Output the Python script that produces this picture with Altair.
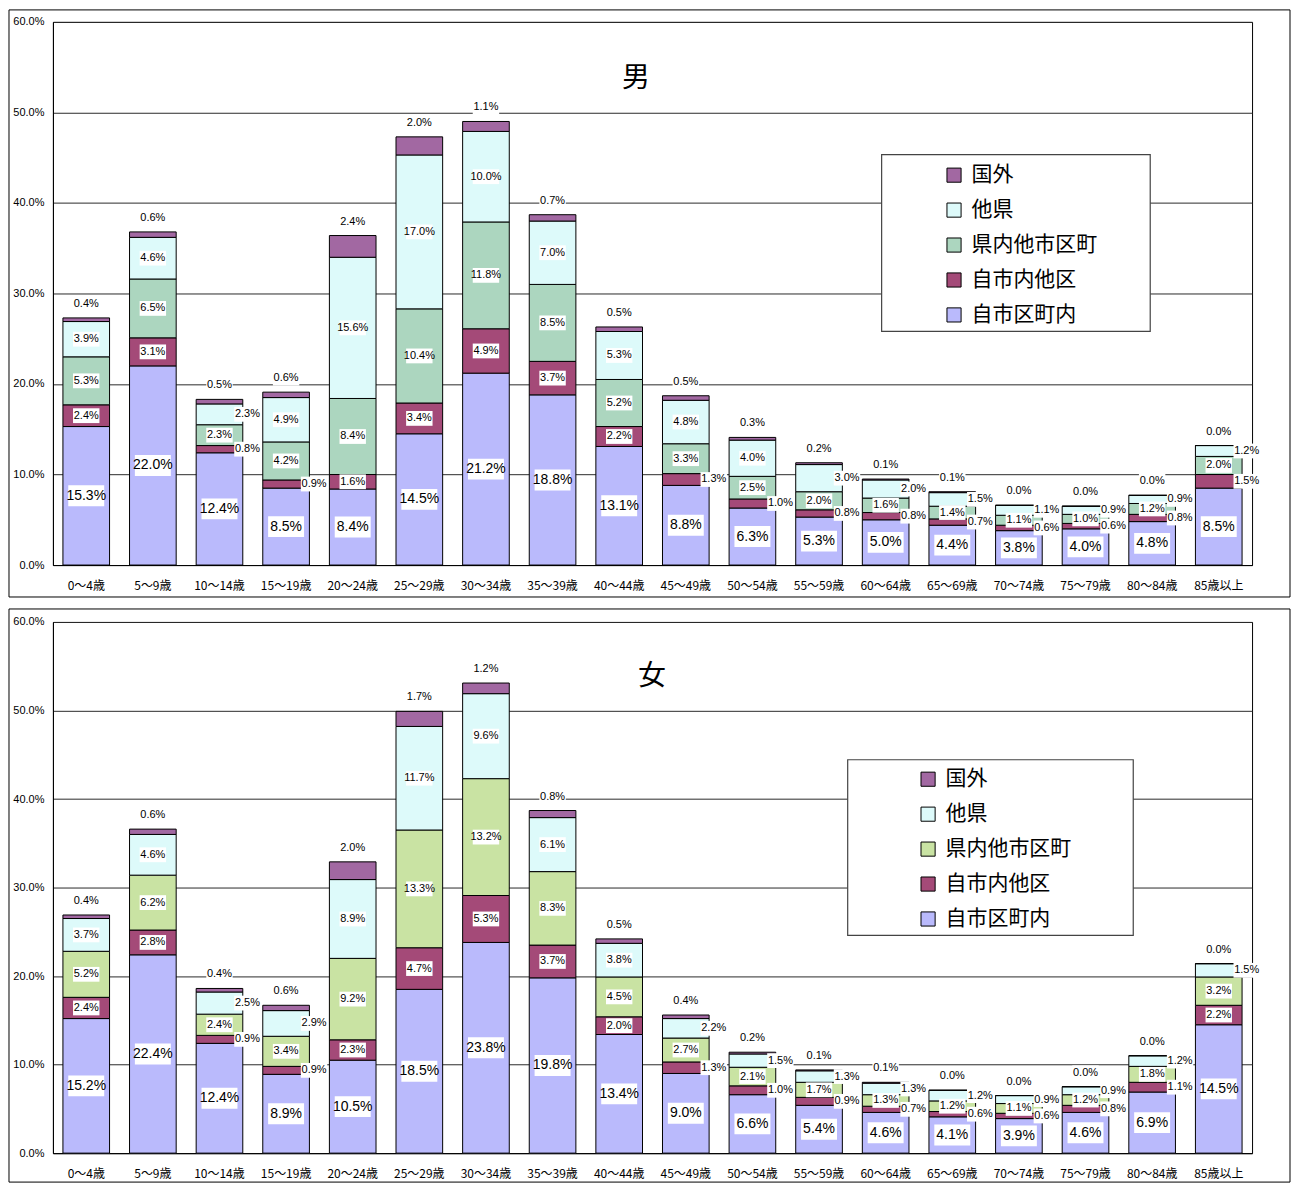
import altair as alt
import pandas as pd

ages = ["0～4歳", "5～9歳", "10～14歳", "15～19歳", "20～24歳", "25～29歳",
        "30～34歳", "35～39歳", "40～44歳", "45～49歳", "50～54歳", "55～59歳",
        "60～64歳", "65～69歳", "70～74歳", "75～79歳", "80～84歳", "85歳以上"]
# stacking order, bottom to top
categories = ["自市区町内", "自市内他区", "県内他市区町", "他県", "国外"]
legend_order = ["国外", "他県", "県内他市区町", "自市内他区", "自市区町内"]

male_own    = [15.3, 22.0, 12.4, 8.5, 8.4, 14.5, 21.2, 18.8, 13.1, 8.8, 6.3, 5.3, 5.0, 4.4, 3.8, 4.0, 4.8, 8.5]
male_city   = [2.4, 3.1, 0.8, 0.9, 1.6, 3.4, 4.9, 3.7, 2.2, 1.3, 1.0, 0.8, 0.8, 0.7, 0.6, 0.6, 0.8, 1.5]
male_pref   = [5.3, 6.5, 2.3, 4.2, 8.4, 10.4, 11.8, 8.5, 5.2, 3.3, 2.5, 2.0, 1.6, 1.4, 1.1, 1.0, 1.2, 2.0]
male_other  = [3.9, 4.6, 2.3, 4.9, 15.6, 17.0, 10.0, 7.0, 5.3, 4.8, 4.0, 3.0, 2.0, 1.5, 1.1, 0.9, 0.9, 1.2]
male_abroad = [0.4, 0.6, 0.5, 0.6, 2.4, 2.0, 1.1, 0.7, 0.5, 0.5, 0.3, 0.2, 0.1, 0.1, 0.0, 0.0, 0.0, 0.0]

female_own    = [15.2, 22.4, 12.4, 8.9, 10.5, 18.5, 23.8, 19.8, 13.4, 9.0, 6.6, 5.4, 4.6, 4.1, 3.9, 4.6, 6.9, 14.5]
female_city   = [2.4, 2.8, 0.9, 0.9, 2.3, 4.7, 5.3, 3.7, 2.0, 1.3, 1.0, 0.9, 0.7, 0.6, 0.6, 0.8, 1.1, 2.2]
female_pref   = [5.2, 6.2, 2.4, 3.4, 9.2, 13.3, 13.2, 8.3, 4.5, 2.7, 2.1, 1.7, 1.3, 1.2, 1.1, 1.2, 1.8, 3.2]
female_other  = [3.7, 4.6, 2.5, 2.9, 8.9, 11.7, 9.6, 6.1, 3.8, 2.2, 1.5, 1.3, 1.3, 1.2, 0.9, 0.9, 1.2, 1.5]
female_abroad = [0.4, 0.6, 0.4, 0.6, 2.0, 1.7, 1.2, 0.8, 0.5, 0.4, 0.2, 0.1, 0.1, 0.0, 0.0, 0.0, 0.0, 0.0]

NUM_FONT = "Liberation Sans Narrow, Arial Narrow, Liberation Sans, sans-serif"
JP_FONT = "Noto Sans CJK JP, sans-serif"


def make_df(series):
    rows = []
    for order, (cat, vals) in enumerate(zip(categories, series)):
        for age, v in zip(ages, vals):
            rows.append({"age": age, "cat": cat, "order": order, "value": v})
    return pd.DataFrame(rows)


male_df = make_df([male_own, male_city, male_pref, male_other, male_abroad])
female_df = make_df([female_own, female_city, female_pref, female_other, female_abroad])

male_colors = {"国外": "#a268a2", "他県": "#ddfafa", "県内他市区町": "#acd6bf",
               "自市内他区": "#a44a78", "自市区町内": "#babafc"}
female_colors = {"国外": "#a268a2", "他県": "#ddfafa", "県内他市区町": "#c9e3a3",
                 "自市内他区": "#a44a78", "自市区町内": "#babafc"}

W = 1201
BOX_BIG = "M-1,-0.58L1,-0.58L1,0.58L-1,0.58Z"
BOX_SMALL = "M-1,-0.56L1,-0.56L1,0.56L-1,0.56Z"

center_expr = ("datum.cat == '県内他市区町' || (datum.cat == '自市内他区' && datum.value >= 1.6)"
               " || (datum.cat == '他県' && datum.value >= 3.5)")
right_expr = ("(datum.cat == '自市内他区' && datum.value < 1.6)"
              " || (datum.cat == '他県' && datum.value < 3.5)")
big_expr = "datum.cat == '自市区町内'"
top_expr = "datum.cat == '国外'"

X_AXIS = alt.Axis(title=None, labelAngle=0, labelFont=JP_FONT, labelFontSize=12,
                  labelColor="black", ticks=False, labelPadding=15,
                  domainColor="black", grid=False)
Y_AXIS = alt.Axis(title=None, values=[0, 10, 20, 30, 40, 50, 60],
                  labelExpr="format(datum.value, '.1f') + '%'",
                  labelFont=NUM_FONT, labelFontSize=11, labelColor="black",
                  ticks=False, labelPadding=9, domainColor="black",
                  grid=True, gridColor="#2a2a2a", gridWidth=1)


def panel(df, colors, H, frame, legend_pos, legend_box, title, title_xy):
    base = alt.Chart(df).transform_stack(
        stack="value", groupby=["age"], as_=["y0", "y1"],
        sort=[alt.SortField("order", order="ascending")]
    ).transform_calculate(
        mid="(datum.y0 + datum.y1) / 2",
        lab="format(datum.value, '.1f') + '%'"
    )
    xscale = alt.Scale(domain=ages, paddingInner=0, paddingOuter=0)
    yscale = alt.Scale(domain=[0, 60], nice=False, zero=True)

    def xenc():
        return alt.X("age:N", scale=xscale, axis=X_AXIS, title=None)

    def yenc(field):
        return alt.Y(f"{field}:Q", scale=yscale, axis=Y_AXIS, title=None)

    bars = base.mark_bar(width=alt.RelativeBandSize(0.7), stroke="black",
                         strokeWidth=1).encode(
        x=xenc(),
        y=yenc("y1"),
        y2="y0:Q",
        color=alt.Color("cat:N",
                        scale=alt.Scale(domain=legend_order,
                                        range=[colors[c] for c in legend_order]),
                        legend=alt.Legend(orient="none", legendX=legend_pos[0],
                                          legendY=legend_pos[1], title=None,
                                          symbolType="square", symbolSize=200,
                                          symbolStrokeColor="black",
                                          symbolStrokeWidth=1, symbolOpacity=1,
                                          labelFont=JP_FONT, labelFontSize=21,
                                          labelColor="black", rowPadding=13,
                                          labelOffset=7, padding=0, labelLimit=400)),
    )

    def boxes(expr, path, size, xo=0, yo=0, field="mid"):
        return base.transform_filter(expr).mark_point(
            shape=path, size=size, filled=True, fill="white", opacity=1,
            strokeWidth=0, xOffset=xo, yOffset=yo
        ).encode(x=xenc(), y=yenc(field))

    def texts(expr, fs, xo=0, yo=0, field="mid"):
        return base.transform_filter(expr).mark_text(
            font=NUM_FONT, fontSize=fs, color="black", baseline="middle",
            align="center", xOffset=xo, yOffset=yo
        ).encode(x=xenc(), y=yenc(field), text="lab:N")

    frame_rect = alt.Chart(alt.Data(values=[{}])).mark_rect(
        fillOpacity=0, stroke="black", strokeWidth=1
    ).encode(x=alt.value(frame[0]), x2=alt.value(frame[1]),
             y=alt.value(frame[2]), y2=alt.value(frame[3]))

    legend_rect = alt.Chart(alt.Data(values=[{}])).mark_rect(
        fill="white", stroke="#444444", strokeWidth=1.2
    ).encode(x=alt.value(legend_box[0]), x2=alt.value(legend_box[1]),
             y=alt.value(legend_box[2]), y2=alt.value(legend_box[3]))

    title_mark = alt.Chart(alt.Data(values=[{}])).mark_text(
        text=title, font=JP_FONT, fontSize=28, color="black", baseline="middle"
    ).encode(x=alt.value(title_xy[0]), y=alt.value(title_xy[1]))

    layers = [
        bars,
        boxes(big_expr, BOX_BIG, 1296),
        texts(big_expr, 14),
        boxes(center_expr, BOX_SMALL, 700),
        texts(center_expr, 11),
        boxes(right_expr, BOX_SMALL, 700, xo=28),
        texts(right_expr, 11, xo=28),
        boxes(top_expr, BOX_SMALL, 700, yo=-14, field="y1"),
        texts(top_expr, 11, yo=-14, field="y1"),
        frame_rect,
        legend_rect,
        title_mark,
    ]
    return alt.layer(*layers).properties(width=W, height=H)


top = panel(male_df, male_colors, 544, (-44, 1239, -12, 576),
            (892, 143), (830, 1099, 133, 310), "男", (584, 57))
bottom = panel(female_df, female_colors, 532, (-44, 1239, -13, 561),
               (866, 147), (796, 1082, 138, 314), "女", (600, 55))

chart = alt.vconcat(top, bottom, spacing=10).resolve_scale(
    x="independent", y="independent", color="independent"
).properties(padding=0).configure_view(stroke="black", strokeWidth=1)

chart.save("out.html", embed_options={"renderer": "svg", "actions": False})
